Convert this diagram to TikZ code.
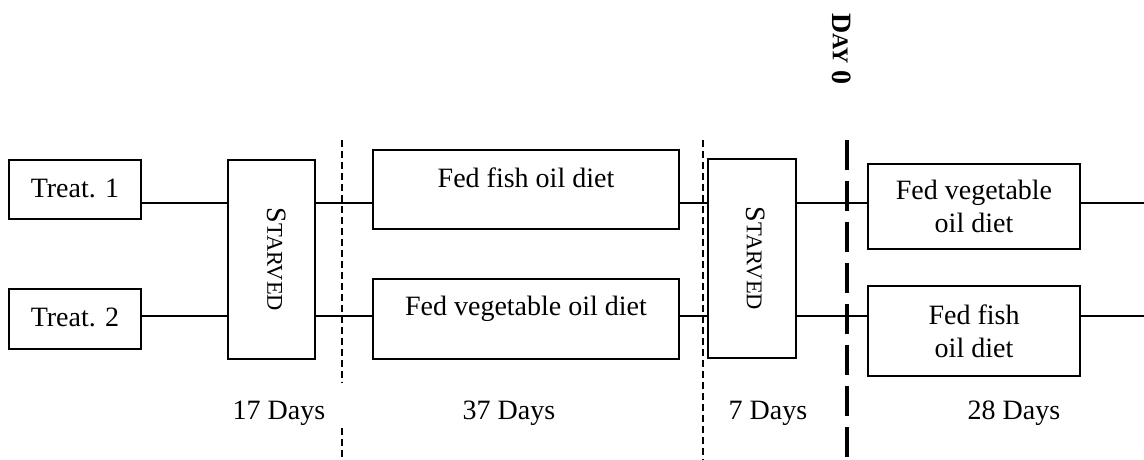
\documentclass[tikz,border=0pt]{standalone}
\usepackage{fontspec}
\setmainfont{Liberation Serif}
\newcommand{\bigfs}{\fontsize{28}{33}\selectfont}
\newcommand{\smallcapfs}{\fontsize{22.5}{27}\selectfont}
\begin{document}
\begin{tikzpicture}[x=1pt,y=-1pt,
  box/.style={draw, line width=1.6pt, inner sep=0pt, align=center, font=\bigfs},
  plain/.style={inner sep=0pt, align=center, font=\bigfs},
  link/.style={line width=1.3pt},
  sepline/.style={line width=1.6pt, dash pattern=on 7pt off 4pt},
  dayline/.style={line width=4pt, dash pattern=on 30pt off 11pt}]
\useasboundingbox (0,0) rectangle (1144,460);

% row coordinates
\coordinate (r1) at (0,203);
\coordinate (r2) at (0,316);

% boxes
\node[box, minimum width=132pt, minimum height=59pt, text height=19pt, text depth=4pt] (t1) at (75,189.5) {Treat. 1};
\node[box, minimum width=132pt, minimum height=60pt, text height=19pt, text depth=4pt] (t2) at (75,319) {Treat. 2};
\node[box, minimum width=87pt, minimum height=199pt] (s1) at (271.5,259.5) {};
\node[plain, rotate=-90] (s1t) at ([xshift=5pt]s1.center) {S{\smallcapfs TARVED}};
\node[box, minimum width=306pt, minimum height=79pt, text height=19pt, text depth=24pt] (f1) at (526,189.5) {Fed fish oil diet};
\node[box, minimum width=306pt, minimum height=80pt, text height=19pt, text depth=27pt] (f2) at (526,319) {Fed vegetable oil diet};
\node[box, minimum width=88pt, minimum height=199pt] (s2) at (752,258.5) {};
\node[plain, rotate=-90] (s2t) at ([xshift=4pt]s2.center) {S{\smallcapfs TARVED}};
\node[box, minimum width=212pt, minimum height=85pt] (g1) at (974,206.5) {Fed vegetable\\oil diet};
\node[box, minimum width=212pt, minimum height=90pt] (g2) at (974,331) {Fed fish\\oil diet};

% free ends
\coordinate (e1) at (1144,203);
\coordinate (e2) at (1144,316);

% connectors
\draw[link] (t1.east |- r1) -- (s1.west |- r1);
\draw[link] (t2.east |- r2) -- (s1.west |- r2);
\draw[link] (s1.east |- r1) -- (f1.west |- r1);
\draw[link] (s1.east |- r2) -- (f2.west |- r2);
\draw[link] (f1.east |- r1) -- (s2.west |- r1);
\draw[link] (f2.east |- r2) -- (s2.west |- r2);
\draw[link] (s2.east |- r1) -- (g1.west |- r1);
\draw[link] (s2.east |- r2) -- (g2.west |- r2);
\draw[link] (g1.east |- r1) -- (e1);
\draw[link] (g2.east |- r2) -- (e2);

% separators
\coordinate (d1a) at (342,140);
\coordinate (d1b) at (342,383);
\coordinate (d1c) at (342,428);
\coordinate (d1d) at (342,460);
\draw[sepline] (d1a) -- (d1b);
\draw[sepline] (d1c) -- (d1d);
\coordinate (d2a) at (703,140);
\coordinate (d2b) at (703,460);
\draw[sepline] (d2a) -- (d2b);
\coordinate (d3a) at (847,140);
\coordinate (d3b) at (847,460);
\draw[dayline] (d3a) -- (d3b);

% labels
\node[plain, rotate=-90] (day0) at (842,49) {\bfseries D{\smallcapfs AY} 0};
\node[plain, anchor=base] (l17) at (279,419) {17 Days};
\node[plain, anchor=base] (l37) at (509,419) {37 Days};
\node[plain, anchor=base] (l7) at (768,419) {7 Days};
\node[plain, anchor=base] (l28) at (1014,419) {28 Days};
\end{tikzpicture}
\end{document}
